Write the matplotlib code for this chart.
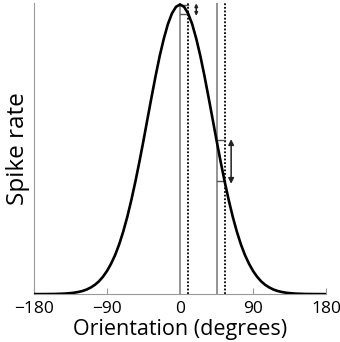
import matplotlib
matplotlib.use("Agg")
import matplotlib.pyplot as plt

plt.rcParams['font.family'] = ['Open Sans', 'DejaVu Sans']

# tuning curve (normalised spike rate), every 5 degrees
orient_right = [0, 5, 10, 15, 20, 25, 30, 35, 40, 45, 50, 55, 60, 65, 70, 75, 80, 85, 90,
                95, 100, 105, 110, 115, 120, 125, 130, 135, 140, 145, 150, 155, 160,
                165, 170, 175, 180]
rate_right = [1.000, 0.992, 0.969, 0.932, 0.882, 0.823, 0.755, 0.682, 0.607, 0.531,
              0.458, 0.389, 0.325, 0.267, 0.216, 0.172, 0.135, 0.105, 0.080, 0.060,
              0.044, 0.032, 0.023, 0.016, 0.011, 0.0076, 0.0051, 0.0034, 0.0022,
              0.0014, 0.0009, 0.0005, 0.0003, 0.0002, 0.0001, 0.0001, 0.0]
orientation = [-o for o in orient_right[:0:-1]] + orient_right
rate = rate_right[:0:-1] + rate_right

# reference orientations (solid) and shifted ones (dotted)
solid_lines = [0, 45]
dotted_lines = [10, 55]
arrow_x = [20, 63]

xticks = [-180, -90, 0, 90, 180]
xtick_labels = ['\u2212180', '\u221290', '0', '90', '180']


def rate_at(o):
    return rate[orientation.index(o)]


fig = plt.figure(figsize=(3.4, 3.42), dpi=100)
ax = fig.add_axes([0.1, 0.14, 0.859, 0.851])

for x in solid_lines:
    ax.axvline(x, color='#777777', lw=1.1, zorder=1)
for x in dotted_lines:
    ax.axvline(x, color='black', lw=1.3, ls=(0, (1.0, 1.0)), zorder=1)

ax.plot(orientation, rate, color='black', lw=1.9, zorder=3)

# brackets showing the change in rate and double arrows
for x0, x1, xa in zip(solid_lines, dotted_lines, arrow_x):
    r0, r1 = rate_at(x0), rate_at(x1)
    ax.plot([x0, x1], [r0, r0], color='#555555', lw=1.0, zorder=2)
    ax.plot([x0, x1], [r1, r1], color='#555555', lw=1.0, zorder=2)
    # small change -> small heads, so the arrow still reads as an arrow
    head = 4.5 if r0 - r1 < 0.1 else 8
    ax.annotate('', xy=(xa, r1 - 0.008), xytext=(xa, r0 + 0.004),
                arrowprops=dict(arrowstyle='<|-|>', color='#222222', lw=1.1,
                                mutation_scale=head, shrinkA=0, shrinkB=0))

ax.set_xlim(-180, 180)
ax.set_ylim(0, 1.005)
ax.spines['top'].set_visible(False)
ax.spines['right'].set_visible(False)
ax.spines['left'].set_color('#999999')
ax.spines['bottom'].set_color('#999999')
ax.set_yticks([])
ax.set_xticks(xticks)
ax.set_xticklabels(xtick_labels, fontsize=12.5)
ax.tick_params(axis='x', direction='in', length=4, color='#999999', pad=5)
ax.set_xlabel('Orientation (degrees)', fontsize=15.5, va='baseline')
ax.xaxis.set_label_coords(0.5, -0.141)
ax.set_ylabel('Spike rate', fontsize=17.5, labelpad=3)

fig.savefig('out.png', dpi=100)
